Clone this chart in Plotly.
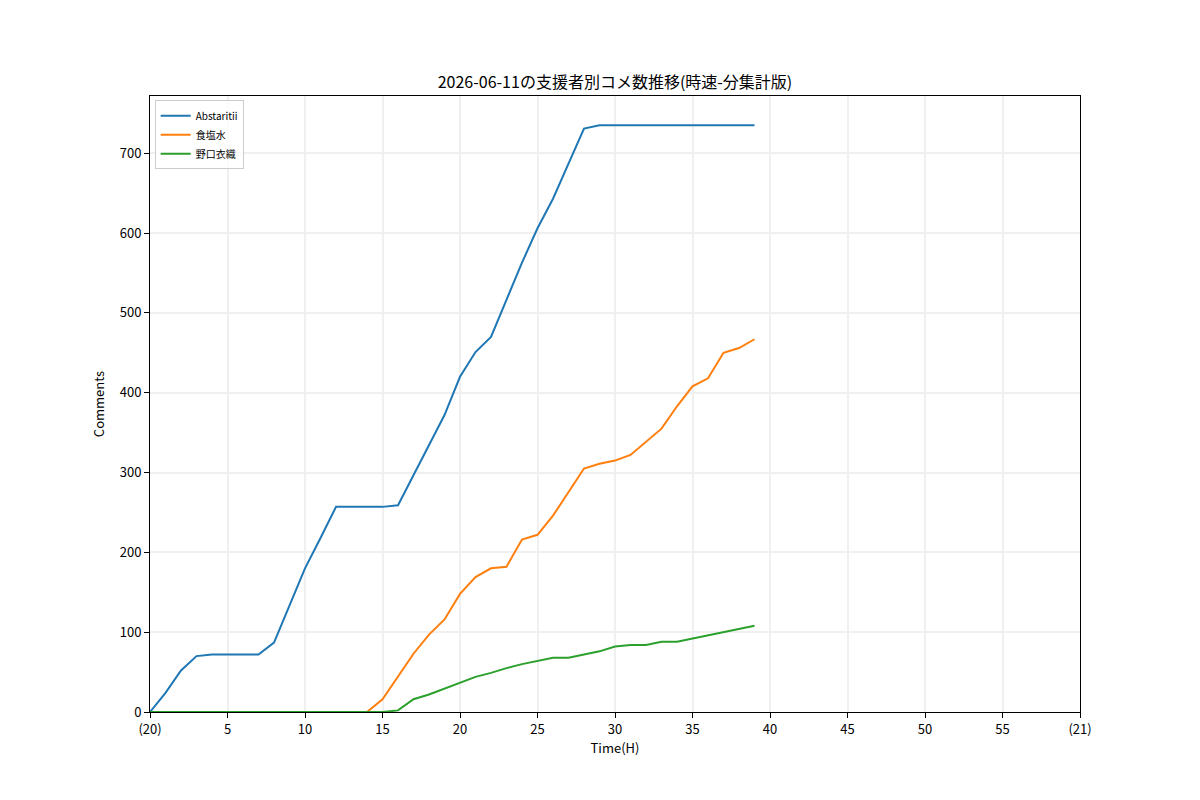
import plotly.graph_objects as go

hours = list(range(40))

abstaritii = [0, 24, 52, 70, 72, 72, 72, 72, 87, 134, 180, 218, 257, 257, 257, 257,
              259, 296, 333, 372, 420, 451, 470, 517, 563, 606, 643, 687, 731, 735,
              735, 735, 735, 735, 735, 735, 735, 735, 735, 735]
shokuensui = [0, 0, 0, 0, 0, 0, 0, 0, 0, 0, 0, 0, 0, 0, 0, 16,
              44, 73, 97, 116, 148, 169, 180, 182, 216, 222, 246, 276, 305, 311,
              315, 322, 338, 355, 383, 408, 418, 450, 456, 467]
noguchi = [0, 0, 0, 0, 0, 0, 0, 0, 0, 0, 0, 0, 0, 0, 0, 0,
           2, 16, 22, 29, 37, 44, 49, 55, 60, 64, 68, 68, 72, 76,
           82, 84, 84, 88, 88, 92, 96, 100, 104, 108]

series = [("Abstaritii", abstaritii, "#1f77b4"),
          ("食塩水", shokuensui, "#ff7f0e"),
          ("野口衣織", noguchi, "#2ca02c")]

xtick_vals = list(range(0, 61, 5))
xtick_text = ["(20)"] + [str(v) for v in range(5, 60, 5)] + ["(21)"]

font = "Noto Sans CJK JP, Noto Sans, sans-serif"

fig = go.Figure()
for name, vals, color in series:
    fig.add_trace(go.Scatter(x=hours, y=vals, mode="lines", name=name,
                             line=dict(color=color, width=2)))

# the page body adds 8px, so margins are shifted by that
fig.update_layout(
    width=1200, height=800,
    margin=dict(l=142, r=128, t=88, b=96),
    paper_bgcolor="white", plot_bgcolor="white",
    font=dict(family=font, size=13, color="black"),
    title=dict(text="2026-06-11の支援者別コメ数推移(時速-分集計版)",
               x=607 / 1200, xanchor="center", y=1 - 74 / 800, yanchor="middle",
               font=dict(size=16)),
    legend=dict(x=0.005, y=0.993, xanchor="left", yanchor="top",
                bgcolor="rgba(255,255,255,0.8)", bordercolor="#cccccc",
                borderwidth=1, font=dict(size=10), tracegroupgap=0),
    showlegend=True,
)

fig.update_xaxes(range=[0, 60], tickvals=xtick_vals, ticktext=xtick_text,
                 showline=True, linecolor="black", linewidth=1, mirror=True,
                 ticks="outside", ticklen=5, tickcolor="black",
                 showgrid=True, gridcolor="#f0f0f0", gridwidth=1.5, zeroline=False,
                 title=dict(text="Time(H)", standoff=6, font=dict(size=13)))
fig.update_yaxes(range=[0, 771.75], tickvals=list(range(0, 701, 100)),
                 showline=True, linecolor="black", linewidth=1, mirror=True,
                 ticks="outside", ticklen=5, tickcolor="black",
                 showgrid=True, gridcolor="#f0f0f0", gridwidth=1.5, zeroline=False,
                 title=dict(text="Comments", standoff=12, font=dict(size=13)))

fig.write_html("out.html")
